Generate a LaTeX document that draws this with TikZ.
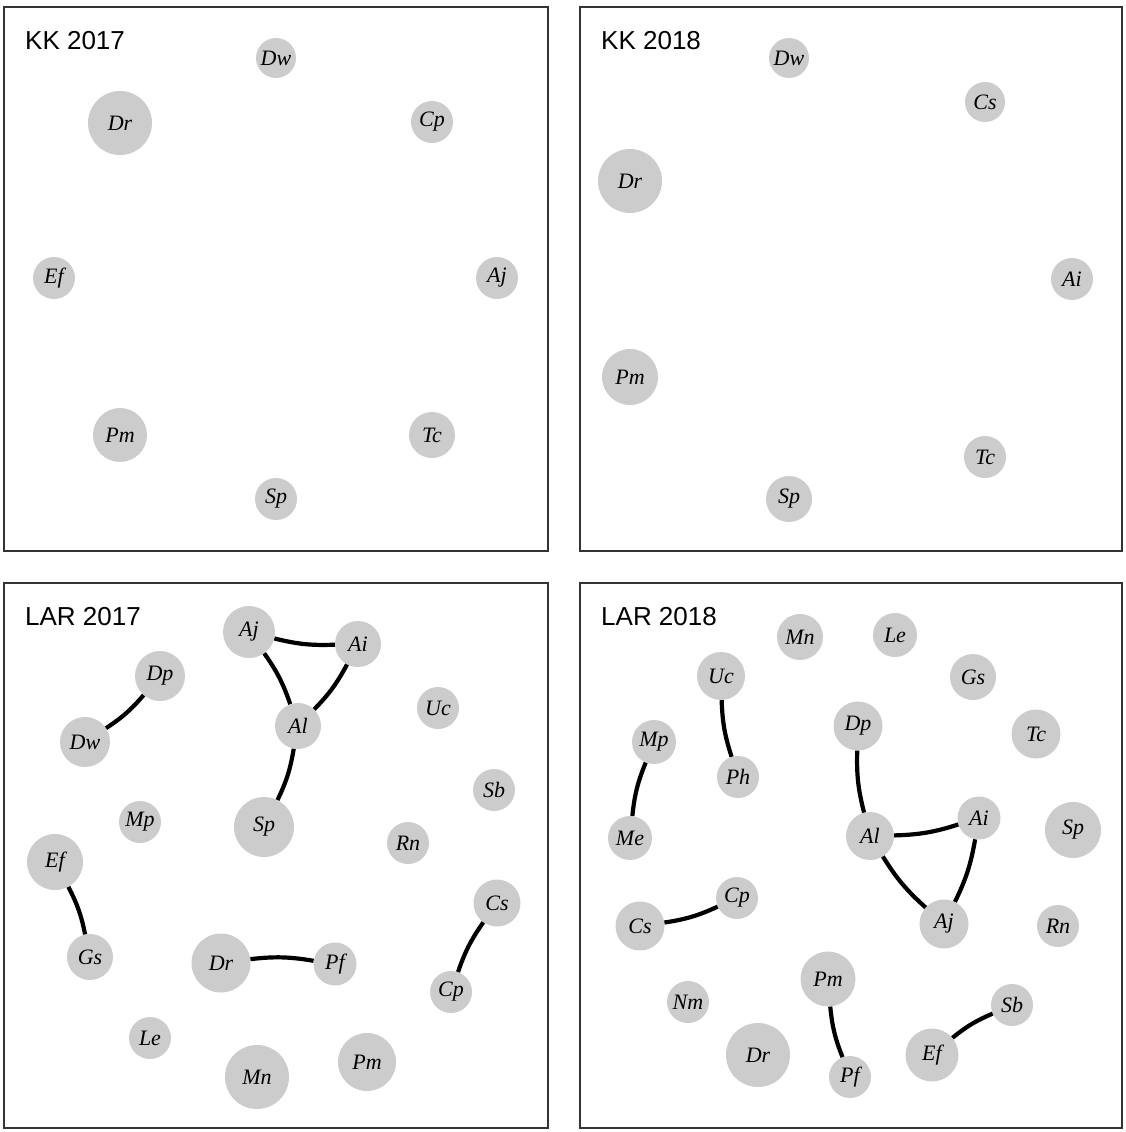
\documentclass[tikz,border=0pt]{standalone}
\usepackage{fontspec}
\setmainfont{Liberation Serif}
\newfontfamily\titlefont{Liberation Sans}
\definecolor{nodegray}{HTML}{CCCCCC}
\definecolor{framegray}{HTML}{333333}
\tikzset{
  vtx/.style={circle, fill=nodegray, draw=none, inner sep=0pt,
    font=\fontsize{22}{25}\selectfont\itshape},
  ttl/.style={anchor=base west, inner sep=0pt,
    font=\titlefont\fontsize{26}{30}\selectfont},
  frame/.style={draw=framegray, line width=1.5pt},
  edg/.style={line width=4.2pt, black},
  vl/.style={edg, bend left=8},
  vr/.style={edg, bend right=8}
}
\newcommand{\vnode}[5]{\node[vtx, minimum size=#4*2pt] (#1) at (#2,-#3) {#5};}
\begin{document}
\begin{tikzpicture}[x=1pt,y=1pt]
\useasboundingbox (0,0) rectangle (1126,-1132);
% frames
\draw[frame] (4,-7) rectangle (548,-551);
\draw[frame] (580,-7) rectangle (1122,-551);
\draw[frame] (4,-583) rectangle (548,-1128);
\draw[frame] (580,-583) rectangle (1122,-1128);
% titles
\node[ttl] (t1) at (25,-49) {KK 2017};
\node[ttl] (t2) at (601,-49) {KK 2018};
\node[ttl] (t3) at (25,-625) {LAR 2017};
\node[ttl] (t4) at (601,-625) {LAR 2018};
% KK 2017
\vnode{aDw}{276}{58}{20}{Dw}
\vnode{aDr}{120}{123}{32}{Dr}
\vnode{aCp}{432}{122}{21}{Cp}
\vnode{aEf}{54}{278}{21}{Ef}
\vnode{aAj}{497}{278}{21}{Aj}
\vnode{aPm}{120}{435}{27}{Pm}
\vnode{aTc}{432}{435}{23}{Tc}
\vnode{aSp}{276}{499}{21}{Sp}
% KK 2018
\vnode{bDw}{789}{58}{20}{Dw}
\vnode{bCs}{985}{102}{20}{Cs}
\vnode{bDr}{630}{181}{32}{Dr}
\vnode{bAi}{1072}{279}{21}{Ai}
\vnode{bPm}{630}{377}{28}{Pm}
\vnode{bTc}{985}{457}{21}{Tc}
\vnode{bSp}{789}{499}{23}{Sp}
% LAR 2017
\vnode{cAj}{249}{632}{26}{Aj}
\vnode{cAi}{358}{644}{23}{Ai}
\vnode{cAl}{298}{726}{23}{Al}
\vnode{cDp}{160}{676}{25}{Dp}
\vnode{cDw}{85}{742}{25}{Dw}
\vnode{cUc}{438}{708}{21}{Uc}
\vnode{cSb}{494}{790}{21}{Sb}
\vnode{cMp}{140}{822}{21}{Mp}
\vnode{cSp}{264}{827}{30}{Sp}
\vnode{cRn}{408}{843}{21}{Rn}
\vnode{cEf}{55}{862}{28}{Ef}
\vnode{cCs}{497}{903}{23.5}{Cs}
\vnode{cGs}{90}{957}{23}{Gs}
\vnode{cDr}{221}{963}{29.5}{Dr}
\vnode{cPf}{335}{964}{21.5}{Pf}
\vnode{cCp}{451}{992}{21}{Cp}
\vnode{cLe}{150}{1038}{21}{Le}
\vnode{cMn}{257}{1077}{32}{Mn}
\vnode{cPm}{367}{1062}{29}{Pm}
% LAR 2018
\vnode{dMn}{800}{637}{23}{Mn}
\vnode{dLe}{895}{635}{22}{Le}
\vnode{dUc}{721}{676}{24}{Uc}
\vnode{dGs}{973}{677}{23}{Gs}
\vnode{dDp}{858}{726}{24.5}{Dp}
\vnode{dTc}{1036}{734}{24.5}{Tc}
\vnode{dMp}{654}{742}{22}{Mp}
\vnode{dPh}{738}{777}{21}{Ph}
\vnode{dAi}{979}{818}{21.5}{Ai}
\vnode{dAl}{870}{836}{24}{Al}
\vnode{dSp}{1073}{830}{28}{Sp}
\vnode{dMe}{630}{838}{22}{Me}
\vnode{dCp}{737}{898}{21}{Cp}
\vnode{dCs}{640}{926}{24.5}{Cs}
\vnode{dAj}{944}{924}{24.5}{Aj}
\vnode{dRn}{1058}{926}{21}{Rn}
\vnode{dPm}{828}{979}{27.5}{Pm}
\vnode{dSb}{1012}{1005}{21}{Sb}
\vnode{dNm}{688}{1002}{21}{Nm}
\vnode{dDr}{758}{1055}{32}{Dr}
\vnode{dEf}{932}{1055}{26.5}{Ef}
\vnode{dPf}{850}{1077}{21}{Pf}
% LAR 2017 edges
\draw (cAj) edge[vr] (cAi)
      (cAj) edge[vl] (cAl)
      (cAi) edge[vl] (cAl)
      (cAl) edge[vl] (cSp)
      (cDp) edge[vl] (cDw)
      (cDr) edge[vl] (cPf)
      (cCp) edge[vl] (cCs)
      (cEf) edge[vl] (cGs);
% LAR 2018 edges
\draw (dUc) edge[vr] (dPh)
      (dMp) edge[vr] (dMe)
      (dDp) edge[vr] (dAl)
      (dAl) edge[vr] (dAi)
      (dAl) edge[vr] (dAj)
      (dAj) edge[vr] (dAi)
      (dCs) edge[vr] (dCp)
      (dPm) edge[vr] (dPf)
      (dSb) edge[vr] (dEf);
\end{tikzpicture}
\end{document}
